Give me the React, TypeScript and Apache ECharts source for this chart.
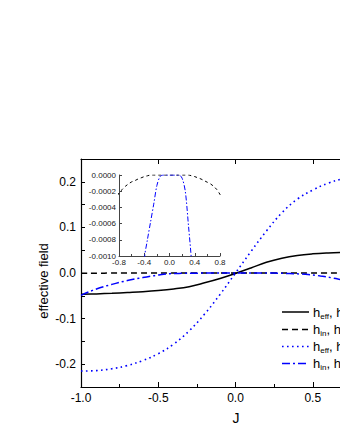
import React, { useEffect, useRef } from "react";
import * as echarts from "echarts";

// Coupling J (coarse grid) and effective fields
const jCoarse = [-1.0, -0.9, -0.8, -0.7, -0.6, -0.5, -0.4, -0.3, -0.2, -0.1, 0.0, 0.1, 0.2, 0.3, 0.4, 0.5, 0.6, 0.7, 0.8, 0.9, 1.0];
const hEffA = [-0.0466, -0.0458, -0.0445, -0.0428, -0.041, -0.0385, -0.035, -0.03, -0.0215, -0.012, -0.001, 0.011, 0.0235, 0.0325, 0.0385, 0.042, 0.044, 0.0452, 0.046, 0.0465, 0.0468];
const hEffB = [-0.215, -0.214, -0.21, -0.203, -0.192, -0.177, -0.156, -0.127, -0.09, -0.047, 0.0, 0.047, 0.092, 0.132, 0.162, 0.182, 0.197, 0.207, 0.211, 0.214, 0.215];

// Fine grid for the internal fields
const jFine = [-1.0, -0.95, -0.9, -0.85, -0.8, -0.75, -0.7, -0.65, -0.6, -0.55, -0.5, -0.45, -0.4, -0.35, -0.3, -0.25, -0.2, -0.15, -0.1, -0.05, 0.0, 0.05, 0.1, 0.15, 0.2, 0.25, 0.3, 0.35, 0.4, 0.45, 0.5, 0.55, 0.6, 0.65, 0.7, 0.75, 0.8, 0.85, 0.9, 0.95, 1.0];
const hInA = [-0.0006, -0.0005, -0.0004, -0.0003, -0.00022, -0.00018, -0.00014, -0.00011, -0.000085, -0.00007, -0.00005, -0.000035, -0.00002, -0.00001, 0, 0, 0, 0, 0, 0, 0, 0, 0, 0, 0, 0, 0, -0.00001, -0.00002, -0.000035, -0.00005, -0.00007, -0.00009, -0.00011, -0.00014, -0.00018, -0.00024, -0.00032, -0.00042, -0.00052, -0.00062];
const hInB = [-0.049, -0.0415, -0.035, -0.0295, -0.025, -0.0205, -0.0165, -0.013, -0.01, -0.0072, -0.0046, -0.0022, -0.00105, -0.0008, -0.00058, -0.00036, -0.00013, -0.00002, 0, 0, 0, 0, 0, 0, -0.00004, -0.0002, -0.00062, -0.00108, -0.0018, -0.0028, -0.0042, -0.0066, -0.0092, -0.0122, -0.0158, -0.02, -0.0245, -0.0295, -0.035, -0.0415, -0.049];

// Legend labels (rich text: a = normal, s = subscript)
const legendLabels = [
  "{a|h}{s|eff}{a|, h}{s|A}",
  "{a|h}{s|in}{a|, h}{s|A}",
  "{a|h}{s|eff}{a|, h}{s|B}",
  "{a|h}{s|in}{a|, h}{s|B}",
];

const zip = (xs: number[], ys: number[]) => xs.map((x, i) => [x, ys[i]]);
const FONT = "Liberation Sans, Arial, sans-serif";

const BLACK = "#000";
const BLUE = "#0000ff";
const styles = [
  { color: BLACK, width: 1.5, dash: null as number[] | null },
  { color: BLACK, width: 1.5, dash: [6, 4] },
  { color: BLUE, width: 1.6, dash: [1.6, 3.4] },
  { color: BLUE, width: 1.5, dash: [8, 3, 2, 3] },
];

export default function App() {
  const ref = useRef<HTMLDivElement>(null);
  useEffect(() => {
    if (!ref.current) return;
    const chart = echarts.init(ref.current, undefined, { renderer: "svg" });
    const axisLine = { show: true, onZero: false, lineStyle: { color: "#000", width: 1.2 } };
    const insetLine = { show: true, onZero: false, lineStyle: { color: "#444", width: 1 } };
    const rowsY = [312, 329.5, 346.5, 363.5];
    const legendGraphics: any[] = [];
    rowsY.forEach((yc, i) => {
      const st = styles[i];
      legendGraphics.push({
        type: "line",
        shape: { x1: 282, y1: yc, x2: 309, y2: yc },
        style: { stroke: st.color, lineWidth: st.width, lineDash: st.dash || undefined },
      });
      legendGraphics.push({
        type: "text",
        x: 313,
        y: yc,
        style: {
          text: legendLabels[i],
          verticalAlign: "middle",
          align: "left",
          fontFamily: FONT,
          rich: {
            a: { fontSize: 13, lineHeight: 16, fill: "#000", fontFamily: FONT },
            s: { fontSize: 8, lineHeight: 9, verticalAlign: "bottom", fill: "#000", fontFamily: FONT },
          },
        },
      });
    });
    const lineSeries = (name: string, xs: number[], ys: number[], i: number, smooth: number) => ({
      name, type: "line", xAxisIndex: 0, yAxisIndex: 0, data: zip(xs, ys),
      showSymbol: false, symbol: "none", smooth,
      lineStyle: { color: styles[i].color, width: styles[i].width, type: styles[i].dash || "solid" },
      itemStyle: { color: styles[i].color },
    });
    const option: any = {
      animation: false,
      backgroundColor: "#fff",
      textStyle: { fontFamily: FONT },
      grid: [
        { left: 81, top: 159, width: 309, height: 228, outerBoundsMode: "none" },
        { left: 119, top: 175, width: 101, height: 81, outerBoundsMode: "none" },
      ],
      xAxis: [
        {
          type: "value", gridIndex: 0, position: "bottom", min: -1, max: 1, interval: 0.5,
          axisLine, splitLine: { show: false },
          axisTick: { inside: true, length: 5, lineStyle: { color: "#000", width: 1 } },
          minorTick: { show: true, splitNumber: 2, length: 3, lineStyle: { color: "#000", width: 1 } },
          axisLabel: { color: "#000", fontSize: 12, fontFamily: FONT, margin: 5, formatter: (v: number) => v.toFixed(1) },
        },
        {
          type: "value", gridIndex: 0, position: "top", min: -1, max: 1, interval: 0.5,
          axisLine, splitLine: { show: false },
          axisTick: { inside: true, length: 5, lineStyle: { color: "#000", width: 1 } },
          axisLabel: { show: false },
        },
        {
          type: "value", gridIndex: 1, min: -0.8, max: 0.8, interval: 0.4,
          axisLine: insetLine, splitLine: { show: false },
          axisTick: { inside: true, length: 3, lineStyle: { color: "#444", width: 1 } },
          minorTick: { show: true, splitNumber: 2, length: 2, lineStyle: { color: "#444", width: 1 } },
          axisLabel: { color: "#222", fontSize: 8, fontFamily: FONT, margin: 2, formatter: (v: number) => v.toFixed(1) },
        },
      ],
      yAxis: [
        {
          type: "value", gridIndex: 0, position: "left", min: -0.25, max: 0.25, interval: 0.05,
          axisLine, splitLine: { show: false },
          axisTick: { inside: true, length: 4, lineStyle: { color: "#000", width: 1 } },
          axisLabel: {
            color: "#000", fontSize: 12, fontFamily: FONT, margin: 5,
            formatter: (v: number) => (Math.abs(Math.round(v * 20)) % 2 === 0 ? (Math.round(v * 10) / 10).toFixed(1) : ""),
          },
        },
        {
          type: "value", gridIndex: 0, position: "right", min: -0.25, max: 0.25, interval: 0.05,
          axisLine, splitLine: { show: false },
          axisTick: { inside: true, length: 4, lineStyle: { color: "#000", width: 1 } },
          axisLabel: { show: false },
        },
        {
          type: "value", gridIndex: 1, min: -0.001, max: 0, interval: 0.0002,
          axisLine: insetLine, splitLine: { show: false },
          axisTick: { inside: true, length: 3, lineStyle: { color: "#444", width: 1 } },
          axisLabel: { color: "#222", fontSize: 8, fontFamily: FONT, margin: 3, formatter: (v: number) => v.toFixed(4) },
        },
      ],
      graphic: [
        {
          type: "text", x: 236, y: 418,
          style: { text: "J", fontSize: 14, fontFamily: FONT, fill: "#000", align: "center", verticalAlign: "middle" },
        },
        {
          type: "text", x: 43, y: 281, rotation: Math.PI / 2,
          style: { text: "effective field", fontSize: 13, fontFamily: FONT, fill: "#000", align: "center", verticalAlign: "middle" },
        },
        ...legendGraphics,
      ],
      series: [
        lineSeries("hEffA", jCoarse, hEffA, 0, 0.4),
        lineSeries("hInA", jFine, hInA, 1, 0.3),
        lineSeries("hEffB", jCoarse, hEffB, 2, 0.4),
        lineSeries("hInB", jFine, hInB, 3, 0.3),
        {
          name: "insetA", type: "line", xAxisIndex: 2, yAxisIndex: 2, data: zip(jFine, hInA),
          showSymbol: false, symbol: "none", smooth: 0.3, clip: true,
          lineStyle: { color: BLACK, width: 1, type: [3, 3] },
        },
        {
          name: "insetB", type: "line", xAxisIndex: 2, yAxisIndex: 2, data: zip(jFine, hInB),
          showSymbol: false, symbol: "none", smooth: 0.3, clip: true,
          lineStyle: { color: BLUE, width: 1, type: [5, 2, 1.5, 2] },
        },
      ],
    };
    chart.setOption(option);
    return () => chart.dispose();
  }, []);
  return (
    <div style={{ position: "fixed", left: 0, top: 0, width: 340, height: 440, overflow: "hidden", background: "#fff" }}>
      <div ref={ref} style={{ width: 430, height: 440 }} />
    </div>
  );
}
